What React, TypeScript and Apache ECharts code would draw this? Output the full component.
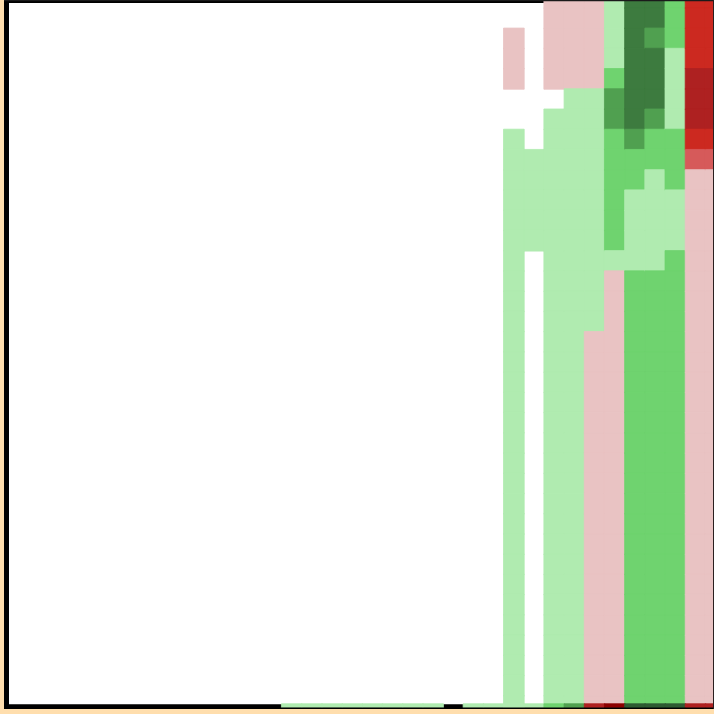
import React, { useEffect, useRef } from "react";
import * as echarts from "echarts";

// Column and row categories of the heatmap (36 x 36 cells)
const columnLabels: string[] = Array.from({ length: 36 }, (_, i) => `C${i + 1}`);
const rowLabels: string[] = Array.from({ length: 36 }, (_, i) => `R${i + 1}`);
const stripLabels: string[] = ["Total"];

// Value levels and their colours (negative = red, positive = green)
const levelValues: number[] = [-4, -3, -2, -1.5, -1, 1, 2, 3, 4, 5];
const levelColors: string[] = [
  "#8b0000",
  "#ae2121",
  "#cc2920",
  "#d65a5a",
  "#e9c3c3",
  "#b0ebb0",
  "#6fd36f",
  "#50a050",
  "#3d7b3f",
  "#2e5a32",
];

// Main matrix, per column index: runs of [fromRow, toRow, value]
const col25: number[][] = [[2, 4, -1], [7, 35, 1]];
const col26: number[][] = [[8, 12, 1]];
const col27: number[][] = [[0, 4, -1], [6, 35, 1]];
const col28: number[][] = [[0, 4, -1], [5, 35, 1]];
const col29: number[][] = [[0, 4, -1], [5, 16, 1], [17, 35, -1]];
const col30: number[][] = [[0, 3, 1], [4, 4, 2], [5, 6, 3], [7, 12, 2], [13, 13, 1], [14, 35, -1]];
const col31: number[][] = [[0, 6, 4], [7, 7, 3], [8, 9, 2], [10, 13, 1], [14, 35, 2]];
const col32: number[][] = [[0, 1, 4], [2, 2, 3], [3, 5, 4], [6, 6, 3], [7, 8, 2], [9, 13, 1], [14, 35, 2]];
const col33: number[][] = [[0, 2, 2], [3, 6, 1], [7, 9, 2], [10, 12, 1], [13, 35, 2]];
const col34: number[][] = [[0, 3, -2], [4, 6, -3], [7, 7, -2], [8, 8, -1.5], [9, 35, -1]];
const col35: number[][] = [[0, 3, -2], [4, 6, -3], [7, 7, -2], [8, 8, -1.5], [9, 35, -1]];

// Bottom summary strip: runs of [fromColumn, toColumn, value]
const stripRuns: number[][] = [
  [14, 21, 1],
  [23, 26, 1],
  [27, 27, 2],
  [28, 28, 3],
  [29, 29, -3],
  [30, 30, -4],
  [31, 33, 5],
  [34, 35, -3],
];

const columnRuns: [number, number[][]][] = [
  [25, col25], [26, col26], [27, col27], [28, col28], [29, col29],
  [30, col30], [31, col31], [32, col32], [33, col33], [34, col34], [35, col35],
];

function colorOf(v: number): string {
  const i = levelValues.indexOf(v);
  return i >= 0 ? levelColors[i] : "#ffffff";
}

function cell(x: number, y: number, v: number) {
  return {
    value: [x, y, v],
    itemStyle: { borderColor: colorOf(v), borderWidth: 0.8 },
  };
}

function buildMain() {
  const out: any[] = [];
  for (const [col, runs] of columnRuns) {
    for (const [a, b, v] of runs) {
      for (let r = a; r <= b; r++) out.push(cell(col, r, v));
    }
  }
  return out;
}

function buildStrip() {
  const out: any[] = [];
  for (const [a, b, v] of stripRuns) {
    for (let c = a; c <= b; c++) out.push(cell(c, 0, v));
  }
  return out;
}

export default function App() {
  const ref = useRef<HTMLDivElement>(null);
  useEffect(() => {
    if (!ref.current) return;
    const chart = echarts.init(ref.current, undefined, { renderer: "svg" });
    const colW = 20.19;
    const rowH = 20.23;
    const gridLeft = -1;
    const gridWidth = colW * 36;
    chart.setOption({
      animation: false,
      backgroundColor: "#ffdead",
      grid: [
        {
          left: gridLeft,
          top: -12.16,
          width: gridWidth,
          height: rowH * 36,
          show: false,
          outerBoundsMode: "none",
          containLabel: false,
        },
        {
          left: gridLeft,
          top: 704,
          width: gridWidth,
          height: 3.6,
          show: false,
          outerBoundsMode: "none",
          containLabel: false,
        },
      ],
      xAxis: [
        { type: "category", data: columnLabels, gridIndex: 0, show: false },
        { type: "category", data: columnLabels, gridIndex: 1, show: false },
      ],
      yAxis: [
        { type: "category", data: rowLabels, gridIndex: 0, inverse: true, show: false },
        { type: "category", data: stripLabels, gridIndex: 1, show: false },
      ],
      visualMap: {
        type: "piecewise",
        show: false,
        pieces: levelValues.map((v, i) => ({ value: v, color: levelColors[i] })),
      },
      graphic: [
        {
          type: "rect",
          z: 0,
          shape: { x: 6.5, y: 0.5, width: 709, height: 706.2 },
          style: { fill: "#ffffff", stroke: "#000000", lineWidth: 5 },
          silent: true,
        },
        {
          type: "rect",
          z: 100,
          shape: { x: 4, y: 0, width: 710, height: 1.2 },
          style: { fill: "#1a1a1a" },
          silent: true,
        },
        {
          type: "rect",
          z: 100,
          shape: { x: 4, y: 707.5, width: 710, height: 1.6 },
          style: { fill: "#000000" },
          silent: true,
        },
        {
          type: "rect",
          z: 100,
          shape: { x: 0, y: 709, width: 714, height: 5 },
          style: { fill: "#ffdead" },
          silent: true,
        },
        {
          type: "rect",
          z: 100,
          shape: { x: 713, y: 0, width: 1, height: 709 },
          style: { fill: "#2a1f1f" },
          silent: true,
        },
      ],
      series: [
        {
          type: "heatmap",
          xAxisIndex: 0,
          yAxisIndex: 0,
          data: buildMain(),
          z: 2,
          emphasis: { disabled: true },
        },
        {
          type: "heatmap",
          xAxisIndex: 1,
          yAxisIndex: 1,
          data: buildStrip(),
          z: 3,
          emphasis: { disabled: true },
        },
      ],
    });
    return () => chart.dispose();
  }, []);
  return (
    <div
      ref={ref}
      style={{ position: "fixed", left: 0, top: 0, width: 714, height: 714 }}
    />
  );
}
